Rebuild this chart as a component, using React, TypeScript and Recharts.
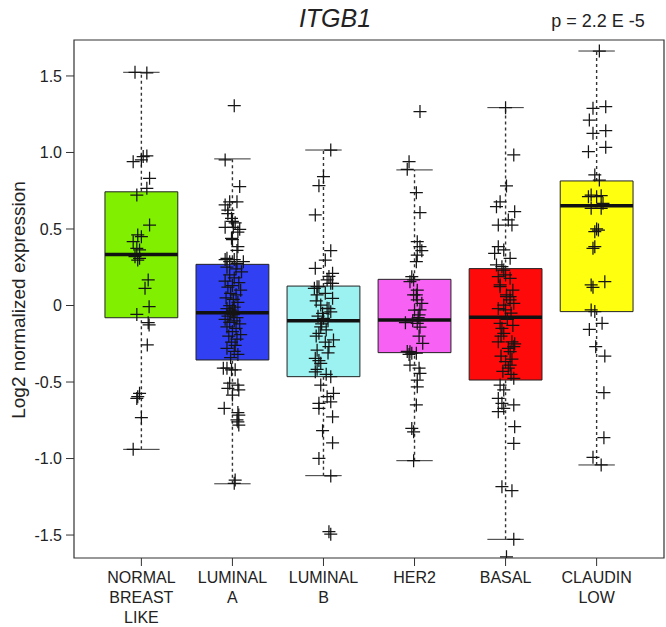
import React from 'react';
import {
  ComposedChart,
  Scatter,
  XAxis,
  YAxis,
  ReferenceArea,
  ReferenceLine,
} from 'recharts';

const FONT = '"Liberation Sans", Arial, Helvetica, sans-serif';

const categories = ['NORMAL\nBREAST\nLIKE', 'LUMINAL\nA', 'LUMINAL\nB', 'HER2', 'BASAL', 'CLAUDIN\nLOW'];
const boxColors = ['#80F000', '#3040F2', '#9CF2F0', '#F862F4', '#FF0A0A', '#FFFF10'];

const whiskerLow = [-0.94, -1.165, -1.112, -1.014, -1.528, -1.042];
const q1 = [-0.08, -0.356, -0.465, -0.308, -0.487, -0.04];
const median = [0.333, -0.047, -0.099, -0.095, -0.077, 0.652];
const q3 = [0.743, 0.269, 0.127, 0.171, 0.241, 0.814];
const whiskerHigh = [1.524, 0.958, 1.016, 0.886, 1.293, 1.663];

const yTicks = [-1.5, -1.0, -0.5, 0, 0.5, 1.0, 1.5];

// [jitter offset, value]
const normalPts = [
  [-0.07, 1.524], [0.06, 1.52], [0.02, 0.973], [0.06, 0.977], [-0.09, 0.94], [0.0, 0.951],
  [0.09, 0.831], [0.06, 0.766], [-0.05, 0.722], [0.09, 0.526], [-0.04, 0.461], [0.0, 0.45],
  [-0.09, 0.417], [-0.05, 0.374], [-0.02, 0.363], [-0.07, 0.319], [-0.02, 0.308], [-0.04, 0.297],
  [0.075, 0.167], [0.04, 0.112], [0.085, -0.008], [-0.05, -0.058], [0.075, -0.112], [0.085, -0.127],
  [0.065, -0.258], [-0.02, -0.574], [-0.04, -0.596], [-0.05, -0.607], [0.0, -0.733], [-0.09, -0.94],
];
const lumAPts = [
  [0.02, 1.306], [-0.08, 0.951], [0.08, 0.777], [-0.08, 0.657], [-0.03, 0.678], [0.05, 0.678],
  [-0.05, 0.624], [-0.05, 0.6], [-0.01, 0.57], [0.0, 0.55], [0.03, 0.54], [-0.08, 0.511],
  [0.01, 0.511], [0.08, 0.498], [0.06, 0.48], [-0.01, 0.439], [0.0, 0.43], [0.06, 0.384],
  [0.05, 0.36], [-0.06, 0.308], [-0.08, 0.3], [0.02, 0.3], [-0.03, 0.286], [0.05, 0.276],
  [0.12, 0.286], [-0.06, 0.25], [0.04, 0.24], [0.1, 0.22], [-0.03, 0.2], [0.02, 0.18],
  [-0.08, 0.16], [0.07, 0.15], [0.0, 0.13], [-0.05, 0.12], [0.09, 0.1], [-0.02, 0.08],
  [0.04, 0.07], [-0.07, 0.05], [0.01, 0.04], [0.06, 0.02], [-0.03, 0.0], [0.02, -0.01],
  [-0.06, -0.02], [0.0, -0.03], [0.03, -0.04], [-0.02, -0.05], [0.01, -0.06], [-0.05, -0.07],
  [0.05, -0.08], [-0.08, -0.09], [0.02, -0.1], [-0.03, -0.11], [0.08, -0.12], [-0.06, -0.14],
  [0.04, -0.15], [0.0, -0.17], [0.09, -0.19], [-0.04, -0.2], [0.05, -0.22], [-0.01, -0.24],
  [0.03, -0.26], [-0.06, -0.28], [0.02, -0.3], [0.06, -0.32], [-0.02, -0.34], [-0.1, -0.41],
  [-0.06, -0.41], [-0.01, -0.42], [0.03, -0.42], [-0.03, -0.508], [0.06, -0.52], [-0.05, -0.541],
  [0.07, -0.552], [0.0, -0.585], [-0.09, -0.672], [0.06, -0.7], [0.07, -0.716], [0.05, -0.748],
  [0.06, -0.76], [0.07, -0.781], [0.03, -1.141], [0.02, -1.162],
];
const lumBPts = [
  [0.08, 1.016], [0.0, 0.842], [-0.05, 0.783], [-0.09, 0.592], [0.08, 0.358], [0.02, 0.297],
  [-0.09, 0.243], [0.1, 0.21], [0.06, 0.19], [0.04, 0.167], [0.08, 0.145], [-0.05, 0.123],
  [-0.1, 0.112], [-0.07, 0.123], [0.1, 0.145], [0.02, 0.08], [-0.07, 0.069], [0.1, 0.047],
  [-0.08, 0.03], [-0.03, 0.003], [0.04, -0.018], [0.06, -0.02], [-0.01, -0.051], [0.08, -0.041],
  [-0.06, -0.07], [0.0, -0.084], [0.05, -0.1], [-0.02, -0.12], [-0.03, -0.139], [0.03, -0.16],
  [-0.05, -0.182], [-0.08, -0.2], [0.11, -0.225], [0.02, -0.24], [0.06, -0.269], [-0.07, -0.292],
  [0.05, -0.31], [-0.09, -0.345], [-0.05, -0.36], [-0.03, -0.378], [-0.07, -0.417], [-0.09, -0.433],
  [0.03, -0.45], [0.08, -0.465], [-0.03, -0.52], [0.11, -0.574], [0.04, -0.596], [-0.05, -0.639],
  [0.08, -0.629], [-0.05, -0.672], [0.1, -0.727], [-0.01, -0.818], [0.1, -0.897], [-0.05, -0.999],
  [0.08, -1.114], [0.06, -1.478], [0.08, -1.494],
];
const her2Pts = [
  [0.06, 1.267], [-0.06, 0.94], [-0.08, 0.89], [0.02, 0.737], [0.06, 0.607], [0.03, 0.417],
  [0.06, 0.384], [0.08, 0.358], [0.03, 0.33], [0.02, 0.286], [-0.03, 0.188], [-0.01, 0.167],
  [-0.05, 0.156], [0.03, 0.1], [0.02, 0.069], [-0.01, 0.069], [0.03, 0.036], [0.08, 0.014],
  [0.0, -0.03], [0.06, -0.029], [0.05, -0.062], [0.04, -0.08], [-0.02, -0.1], [-0.1, -0.112],
  [0.03, -0.116], [0.06, -0.142], [0.05, -0.2], [0.09, -0.247], [-0.05, -0.302], [-0.08, -0.3],
  [-0.03, -0.312], [0.02, -0.312], [-0.06, -0.32], [-0.05, -0.389], [0.05, -0.41], [0.06, -0.443],
  [0.03, -0.487], [0.03, -0.531], [0.02, -0.65], [-0.03, -0.803], [-0.01, -0.825], [-0.01, -1.014],
];
const basalPts = [
  [0.0, 1.293], [0.09, 0.984], [0.01, 0.781], [-0.06, 0.678], [-0.1, 0.646], [0.1, 0.613],
  [0.03, 0.559], [0.07, 0.526], [-0.08, 0.526], [-0.08, 0.384], [-0.02, 0.363], [-0.12, 0.341],
  [0.05, 0.308], [-0.1, 0.265], [-0.04, 0.254], [-0.02, 0.232], [0.0, 0.2], [-0.08, 0.188],
  [0.05, 0.178], [-0.06, 0.134], [-0.06, 0.123], [0.08, 0.1], [0.01, 0.069], [0.05, 0.058],
  [0.01, 0.058], [0.05, 0.036], [0.09, 0.014], [-0.02, 0.003], [-0.08, -0.02], [0.0, -0.029],
  [0.06, -0.05], [0.02, -0.09], [-0.06, -0.116], [0.08, -0.13], [-0.04, -0.149], [-0.02, -0.182],
  [-0.05, -0.2], [-0.08, -0.237], [0.07, -0.237], [0.1, -0.25], [0.09, -0.269], [0.03, -0.28],
  [0.05, -0.302], [-0.05, -0.33], [0.07, -0.35], [0.0, -0.367], [0.05, -0.389], [0.03, -0.41],
  [-0.03, -0.43], [0.06, -0.45], [0.09, -0.476], [-0.06, -0.52], [-0.02, -0.552], [-0.08, -0.607],
  [-0.04, -0.639], [0.09, -0.65], [-0.02, -0.672], [-0.08, -0.694], [0.1, -0.792], [0.09, -0.901],
  [-0.04, -1.184], [0.07, -1.21], [0.09, -1.528], [0.01, -1.642],
];
const claudinPts = [
  [0.03, 1.663], [-0.04, 1.289], [0.1, 1.299], [-0.08, 1.212], [-0.04, 1.125], [0.1, 1.142],
  [-0.09, 1.005], [0.1, 1.034], [-0.02, 0.853], [0.03, 0.82], [-0.06, 0.722], [0.05, 0.718],
  [0.0, 0.711], [-0.09, 0.711], [0.07, 0.668], [-0.06, 0.635], [0.05, 0.635], [0.02, 0.493],
  [-0.02, 0.482], [0.0, 0.5], [-0.02, 0.384], [-0.04, 0.374], [-0.06, 0.134], [0.09, 0.156],
  [-0.04, 0.119], [-0.06, -0.029], [-0.02, -0.04], [0.06, -0.116], [-0.08, -0.156], [-0.01, -0.269],
  [0.09, -0.33], [0.08, -0.57], [0.08, -0.864], [-0.04, -0.992], [0.05, -1.042],
];

const groupPoints = [normalPts, lumAPts, lumBPts, her2Pts, basalPts, claudinPts];

const points = groupPoints.flatMap((pts, i) =>
  pts.map(([dx, y]) => ({ x: i + 1 + dx, y }))
);

const Plus = (props: any) => {
  const { cx, cy } = props;
  if (cx == null || cy == null) return null;
  return (
    <path
      d={`M${cx - 6.5},${cy}h13M${cx},${cy - 6.5}v13`}
      stroke="#151515"
      strokeWidth={1.25}
      fill="none"
    />
  );
};

const CategoryTick = (props: any) => {
  const { x, y, payload } = props;
  const label = categories[Math.round(payload.value) - 1] || '';
  return (
    <text x={x} y={y} textAnchor="middle" fill="#222" fontSize={16} fontFamily={FONT}>
      {label.split('\n').map((line, k) => (
        <tspan key={k} x={x} dy={k === 0 ? 15 : 20}>
          {line}
        </tspan>
      ))}
    </text>
  );
};

export default function App() {
  const idx = categories.map((_, i) => i + 1);
  return (
    <div style={{ position: 'absolute', left: 0, top: 0, width: 666, height: 627, background: '#fff', fontFamily: FONT }}>
      <div
        style={{
          position: 'absolute', left: 235, width: 200, top: 3, textAlign: 'center',
          fontStyle: 'italic', fontSize: 25, lineHeight: '30px', color: '#222',
        }}
      >
        ITGB1
      </div>
      <div
        style={{
          position: 'absolute', left: 538, width: 120, top: 9, textAlign: 'center',
          fontSize: 18, lineHeight: '24px', color: '#222',
        }}
      >
        p = 2.2 E -5
      </div>
      <div
        style={{
          position: 'absolute', left: 19, top: 300, transform: 'translate(-50%, -50%) rotate(-90deg)',
          whiteSpace: 'nowrap', fontSize: 19, color: '#222',
        }}
      >
        Log2 normalized expression
      </div>
      <ComposedChart width={666} height={627} margin={{ top: 40, right: 2, bottom: 0, left: 0 }}>
        <XAxis
          type="number"
          dataKey="x"
          domain={[0.26, 6.74]}
          ticks={idx}
          interval={0}
          height={69}
          axisLine={false}
          tickLine={{ stroke: '#333' }}
          tickSize={8}
          tickMargin={2}
          tick={<CategoryTick />}
          allowDataOverflow
        />
        <YAxis
          type="number"
          dataKey="y"
          domain={[-1.65, 1.735]}
          ticks={yTicks}
          interval={0}
          width={74}
          axisLine={false}
          tickLine={{ stroke: '#333' }}
          tickSize={8}
          tickMargin={4}
          tick={{ fill: '#222', fontSize: 16, fontFamily: FONT }}
          tickFormatter={(v: number) => (v === 0 ? '0' : v.toFixed(1))}
          allowDataOverflow
        />
        {idx.map((c, i) => (
          <ReferenceLine
            key={`wl${i}`}
            segment={[{ x: c, y: whiskerLow[i] }, { x: c, y: q1[i] }]}
            stroke="#333"
            strokeWidth={1.4}
            strokeDasharray="3 3"
          />
        ))}
        {idx.map((c, i) => (
          <ReferenceLine
            key={`wh${i}`}
            segment={[{ x: c, y: q3[i] }, { x: c, y: whiskerHigh[i] }]}
            stroke="#333"
            strokeWidth={1.4}
            strokeDasharray="3 3"
          />
        ))}
        {idx.map((c, i) => (
          <ReferenceLine
            key={`cl${i}`}
            segment={[{ x: c - 0.2, y: whiskerLow[i] }, { x: c + 0.2, y: whiskerLow[i] }]}
            stroke="#333"
            strokeWidth={1}
          />
        ))}
        {idx.map((c, i) => (
          <ReferenceLine
            key={`ch${i}`}
            segment={[{ x: c - 0.2, y: whiskerHigh[i] }, { x: c + 0.2, y: whiskerHigh[i] }]}
            stroke="#333"
            strokeWidth={1}
          />
        ))}
        {idx.map((c, i) => (
          <ReferenceArea
            key={`b${i}`}
            x1={c - 0.4}
            x2={c + 0.4}
            y1={q1[i]}
            y2={q3[i]}
            fill={boxColors[i]}
            fillOpacity={1}
            stroke="#222"
            strokeWidth={1}
          />
        ))}
        {idx.map((c, i) => (
          <ReferenceLine
            key={`m${i}`}
            segment={[{ x: c - 0.4, y: median[i] }, { x: c + 0.4, y: median[i] }]}
            stroke="#111"
            strokeWidth={3.5}
          />
        ))}
        <Scatter data={points} dataKey="y" shape={<Plus />} isAnimationActive={false} />
        <ReferenceArea
          x1={0.26}
          x2={6.74}
          y1={-1.65}
          y2={1.735}
          fill="none"
          fillOpacity={0}
          stroke="#333"
          strokeWidth={1.2}
        />
      </ComposedChart>
    </div>
  );
}
